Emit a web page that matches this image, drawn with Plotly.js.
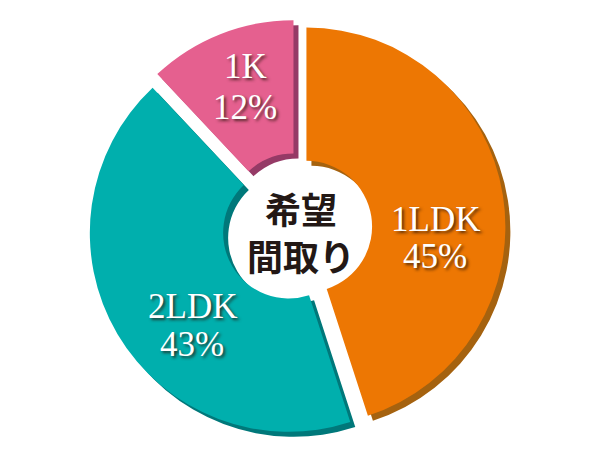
<!DOCTYPE html>
<html>
<head>
<meta charset="utf-8">
<script src="https://cdn.plot.ly/plotly-3.0.1.min.js"></script>
<style>html,body{margin:0;padding:0;background:#fff;}#chart{width:600px;height:460px;}</style>
</head>
<body>
<div id="chart"></div>
<script>
const categories = ["1LDK", "2LDK", "1K"];
const shares = [45, 43, 12];
const sliceColors = ["#ED7703", "#00AFAD", "#E5608F"];
const shadowColors = ["#A5620F", "#00787A", "#953A66"];
const centerLines = ["希望", "間取り"];

// label placement (pixels from top-left), styling only
const labelPos = [[435, 219, 256], [192, 306, 344], [245, 67, 107]];
const centerPos = [301, 231];

const W = 600, H = 460;
const dom = {x: [0.1475, 0.8425], y: [0.051, 0.9576]};
const sx = 5 / W, sy = 5 / H;

const common = {
  type: "pie",
  labels: categories,
  values: shares,
  sort: false,
  direction: "clockwise",
  rotation: 0,
  hole: 0.33,
  pull: 0.048,
  textinfo: "none",
  hoverinfo: "skip",
  showlegend: false
};

const shadow = Object.assign({}, common, {
  marker: {colors: shadowColors, line: {width: 0}},
  domain: {x: [dom.x[0] + sx, dom.x[1] + sx], y: [dom.y[0] - sy, dom.y[1] - sy]}
});

const main = Object.assign({}, common, {
  marker: {colors: sliceColors, line: {width: 0}},
  domain: dom
});

const labelFont = {family: "Liberation Serif, DejaVu Serif, serif", size: 35, color: "#ffffff",
                   shadow: "2px 2px 3px rgba(40,20,10,0.75)"};
const centerFont = {family: "Noto Sans CJK JP", size: 36, weight: 700, color: "#231815"};

const annotations = [];
categories.forEach((c, i) => {
  const p = labelPos[i];
  annotations.push({text: c, x: p[0] / W, y: 1 - p[1] / H, xref: "paper", yref: "paper",
                    xanchor: "center", yanchor: "middle", showarrow: false, font: labelFont});
  annotations.push({text: shares[i] + "%", x: p[0] / W, y: 1 - p[2] / H, xref: "paper", yref: "paper",
                    xanchor: "center", yanchor: "middle", showarrow: false, font: labelFont});
});
annotations.push({text: centerLines.join("<br>"), x: centerPos[0] / W, y: 1 - centerPos[1] / H,
                  xref: "paper", yref: "paper", xanchor: "center", yanchor: "middle",
                  showarrow: false, font: centerFont});

const layout = {
  width: W, height: H,
  margin: {l: 0, r: 0, t: 0, b: 0},
  paper_bgcolor: "#ffffff",
  plot_bgcolor: "#ffffff",
  showlegend: false,
  annotations: annotations
};

Plotly.newPlot("chart", [shadow, main], layout, {displayModeBar: false, staticPlot: true});
</script>
</body>
</html>
